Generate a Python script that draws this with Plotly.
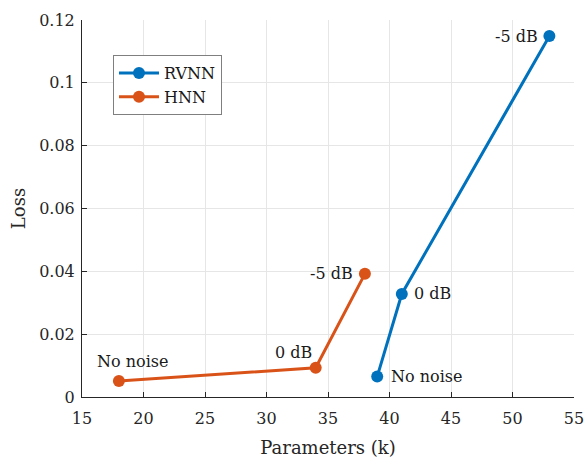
import plotly.graph_objects as go

rvnn_params = [39, 41, 53]
rvnn_loss = [0.0065, 0.0328, 0.1149]
hnn_params = [18, 34, 38]
hnn_loss = [0.0051, 0.0093, 0.0392]
rvnn_labels = ["No noise", "0 dB", "-5 dB"]
hnn_labels = ["No noise", "0 dB", "-5 dB"]

BLUE = "#0072BD"
ORANGE = "#D95319"
FONT = "DejaVu Serif"

fig = go.Figure()
fig.add_trace(go.Scatter(x=rvnn_params, y=rvnn_loss, mode="lines+markers", name="RVNN",
                         line=dict(color=BLUE, width=3), marker=dict(size=12, color=BLUE)))
fig.add_trace(go.Scatter(x=hnn_params, y=hnn_loss, mode="lines+markers", name="HNN",
                         line=dict(color=ORANGE, width=3), marker=dict(size=12, color=ORANGE)))

# annotation placements (anchor, xshift, yshift)
rvnn_place = [("left", 12, 0), ("left", 10, 0), ("right", -9, 0)]
hnn_place = [("center", 14, 19), ("center", -22, 15), ("right", -10, 0)]
for xs, ys, labs, places in [(rvnn_params, rvnn_loss, rvnn_labels, rvnn_place),
                             (hnn_params, hnn_loss, hnn_labels, hnn_place)]:
    for x, y, t, (anc, dx, dy) in zip(xs, ys, labs, places):
        fig.add_annotation(x=x, y=y, text=t, showarrow=False, xanchor=anc, yanchor="middle",
                           xshift=dx, yshift=dy, font=dict(family=FONT, size=16, color="#1a1a1a"))

axis_common = dict(showgrid=True, gridcolor="#e6e6e6", gridwidth=1, zeroline=False,
                   showline=True, linecolor="#262626", linewidth=1, ticks="inside", ticklen=5,
                   tickcolor="#262626", tickfont=dict(family=FONT, size=16, color="#262626"),
                   automargin=False)

fig.update_xaxes(range=[15, 55], tickvals=list(range(15, 60, 5)), ticklabelstandoff=7,
                 title=dict(text="Parameters (k)", font=dict(family=FONT, size=18, color="#262626"), standoff=16),
                 **axis_common)
fig.update_yaxes(range=[0, 0.12], tickvals=[0, 0.02, 0.04, 0.06, 0.08, 0.1, 0.12],
                 ticktext=["0", "0.02", "0.04", "0.06", "0.08", "0.1", "0.12"], ticklabelstandoff=3,
                 title=dict(text="Loss", font=dict(family=FONT, size=18, color="#262626"), standoff=8),
                 **axis_common)

fig.update_layout(
    width=585, height=458,
    margin=dict(l=82, r=11, t=20, b=61, autoexpand=False),
    plot_bgcolor="white", paper_bgcolor="white",
    showlegend=True,
    legend=dict(x=0.063, y=0.907, xanchor="left", yanchor="top", bgcolor="white",
                bordercolor="#7f7f7f", borderwidth=1, font=dict(family=FONT, size=16, color="#1a1a1a"),
                itemwidth=40, tracegroupgap=0),
)

fig.write_html("out.html")
